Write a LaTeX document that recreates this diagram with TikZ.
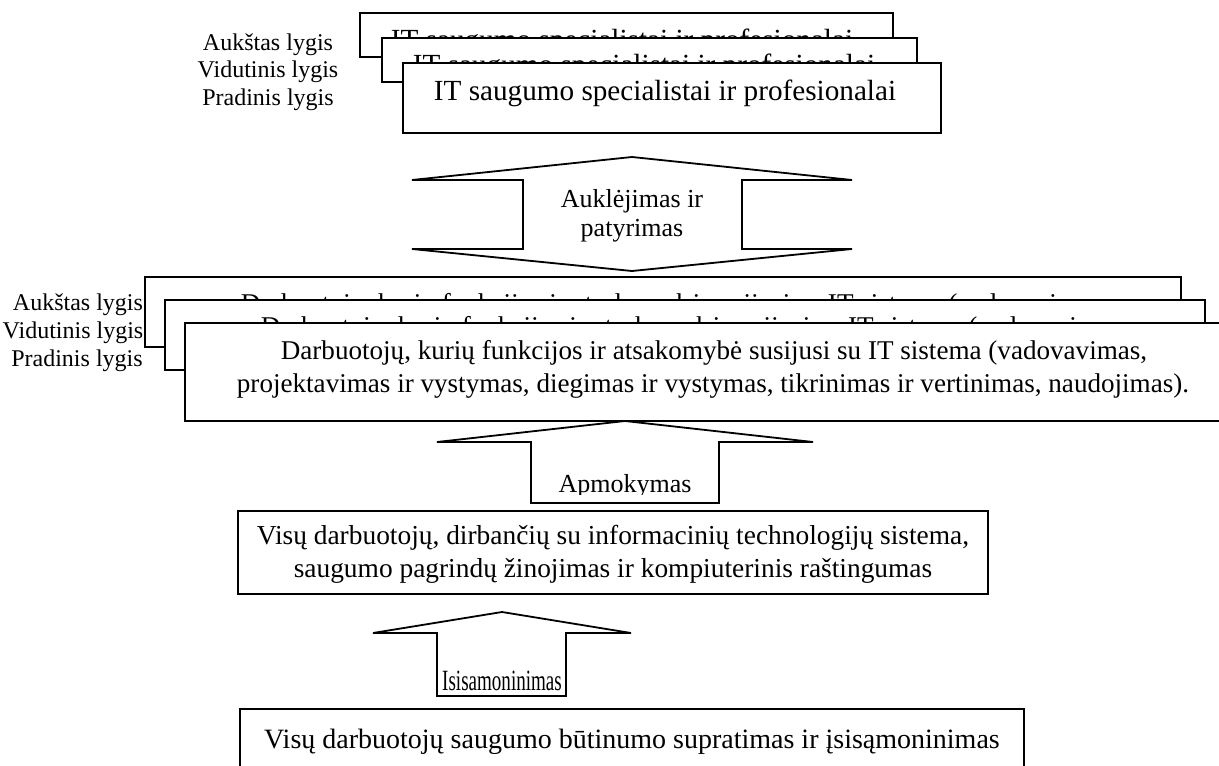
\documentclass[tikz,border=0pt]{standalone}
\usepackage{fontspec}
\setmainfont{Liberation Serif}
\tikzset{
  box/.style={draw, line width=0.9pt, fill=white, inner sep=0pt, outer sep=0pt},
  arrowshape/.style={draw, line width=0.9pt, fill=white, line join=miter},
  maintext/.style={font=\fontsize{14}{16.5}\selectfont, anchor=base, inner sep=0pt},
  toptext/.style={font=\fontsize{14.6}{16.5}\selectfont, anchor=base, inner sep=0pt},
  midtext/.style={font=\fontsize{13.55}{16.5}\selectfont, anchor=base, inner sep=0pt},
  dtext/.style={font=\fontsize{13.7}{16.5}\selectfont, anchor=base, inner sep=0pt},
  arrtext/.style={font=\fontsize{13}{16}\selectfont, anchor=base, inner sep=0pt},
  lvl/.style={font=\fontsize{12}{13.5}\selectfont, anchor=base, inner sep=0pt},
}
\begin{document}
\begin{tikzpicture}[x=0.5pt, y=-0.5pt]
\useasboundingbox (0,0) rectangle (1219,765);
\begin{scope}
\clip (0,0) rectangle (1219,765);

% ---- top level labels
\node[lvl] (la1) at (268,51) {Aukštas lygis};
\node[lvl] (la2) at (268,78) {Vidutinis lygis};
\node[lvl] (la3) at (268,105) {Pradinis lygis};

% ---- top stack
\node[box, minimum width=266.5pt, minimum height=22pt] (t1) at (626.5,35) {};
\node[toptext] (t1txt) at (622,50) {IT saugumo specialistai ir profesionalai};
\node[box, minimum width=267.5pt, minimum height=22pt] (t2) at (649.5,60) {};
\node[toptext] (t2txt) at (644,75) {IT saugumo specialistai ir profesionalai};
\node[box, minimum width=269pt, minimum height=35pt] (t3) at (672,98) {};
\node[toptext] (t3txt) at (665,101) {IT saugumo specialistai ir profesionalai};

% ---- double arrow
\draw[arrowshape] (632,157) -- (852,180) -- (742,180) -- (742,249) -- (852,249)
  -- (632,271) -- (412,249) -- (523,249) -- (523,180) -- (412,180) -- cycle;
\node[arrtext] (au1) at (632,207) {Auklėjimas ir};
\node[arrtext] (au2) at (632,236) {patyrimas};

% ---- middle level labels
\node[lvl] (lb1) at (78,310) {Aukštas lygis};
\node[lvl] (lb2) at (73,338) {Vidutinis lygis};
\node[lvl] (lb3) at (77,366) {Pradinis lygis};

% ---- middle stack
\node[box, minimum width=518pt, minimum height=35pt] (m1) at (663,312) {};
\node[midtext] (m1txt) at (674,312) {Darbuotojų, kurių funkcijos ir atsakomybė susijusi su IT sistema (vadovavimas,};
\node[box, minimum width=520pt, minimum height=35pt] (m2) at (685,335) {};
\node[midtext] (m2txt) at (694,335) {Darbuotojų, kurių funkcijos ir atsakomybė susijusi su IT sistema (vadovavimas,};
\node[box, minimum width=525pt, minimum height=49pt] (m3) at (710,372) {};
\node[midtext] (m3a) at (714,359) {Darbuotojų, kurių funkcijos ir atsakomybė susijusi su IT sistema (vadovavimas,};
\node[midtext] (m3b) at (713,392) {projektavimas ir vystymas, diegimas ir vystymas, tikrinimas ir vertinimas, naudojimas).};

% ---- Apmokymas arrow
\draw[arrowshape] (625,421) -- (813,442) -- (719,442) -- (719,503) -- (531,503)
  -- (531,442) -- (437,442) -- cycle;
\begin{scope}
\clip (531,421) rectangle (719,494);
\node[arrtext] (apm) at (625,492) {Apmokymas};
\end{scope}

% ---- second box
\node[box, minimum width=375pt, minimum height=41.5pt] (d) at (613,552.5) {};
\node[dtext] (d1) at (613,544) {Visų darbuotojų, dirbančių su informacinių technologijų sistema,};
\node[dtext] (d2) at (613,577) {saugumo pagrindų žinojimas ir kompiuterinis raštingumas};

% ---- Isisamoninimas arrow
\draw[arrowshape] (502,612) -- (631,633) -- (566,633) -- (566,696) -- (437,696)
  -- (437,633) -- (373,633) -- cycle;
\node[maintext] (isi) at (502,690) {\scalebox{0.68}[1.05]{Isisamoninimas}};

% ---- bottom box
\node[box, minimum width=392pt, minimum height=40.5pt] (b) at (632,749.5) {};
\node[maintext] (btxt) at (632,748) {Visų darbuotojų saugumo būtinumo supratimas ir įsisąmoninimas};

\end{scope}
\end{tikzpicture}
\end{document}
